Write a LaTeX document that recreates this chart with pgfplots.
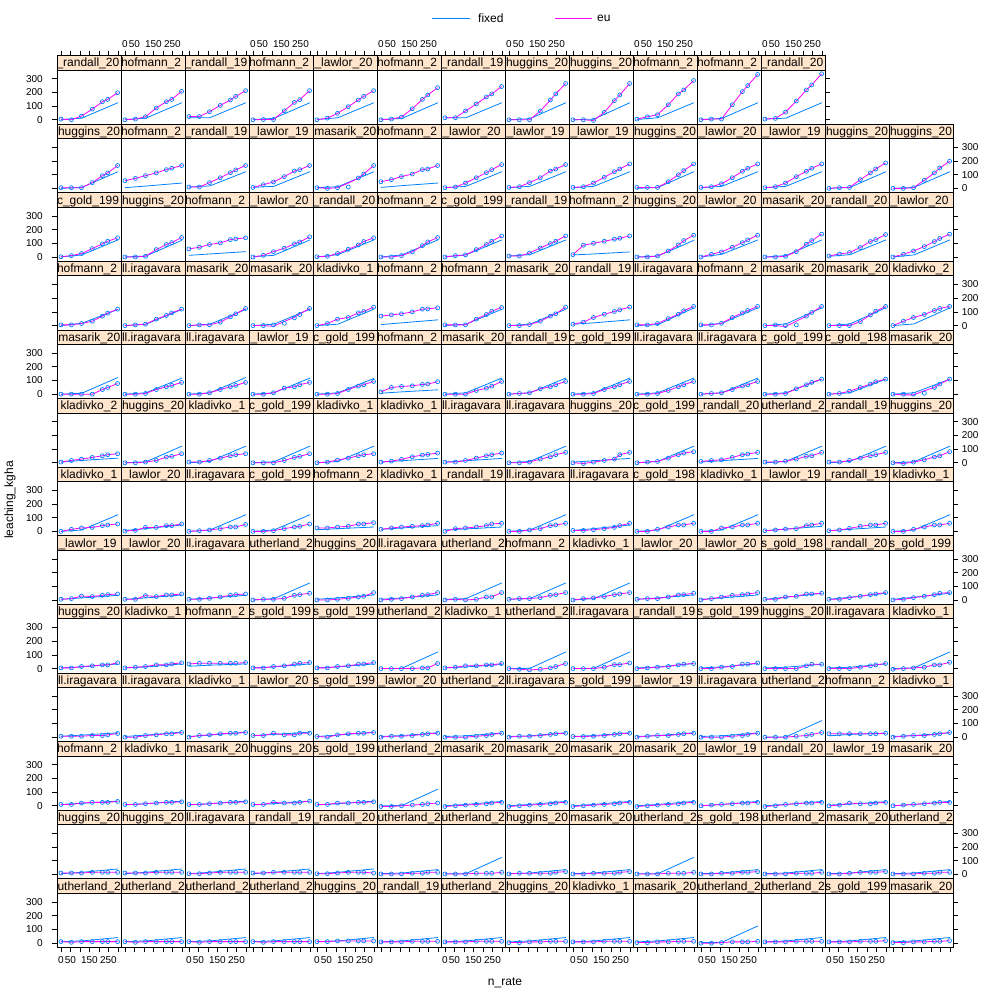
\documentclass[border=0pt]{standalone}
\usepackage{pgfplots}
\pgfplotsset{compat=1.18}
\usepackage{fontspec}
\setmainfont{Liberation Sans}
\definecolor{fixc}{HTML}{0080FF}
\definecolor{euc}{HTML}{FF00FF}
\definecolor{stripc}{HTML}{FFE5CC}
\newcommand\striptext{\fontsize{12}{14}\selectfont}
\pgfplotsset{
  panel/.style={
    scale only axis, width=64pt, height=54.3pt, anchor=south west,
    xmin=-19.2, xmax=317.5, ymin=-33, ymax=364,
    axis line style={line width=0.8pt, black},
    xtick=\empty, ytick=\empty,
    tick align=outside, major tick length=5pt,
    tick style={line width=0.7pt, black},
    tick label style={font=\fontsize{10}{12}\selectfont},
    /pgf/number format/assume math mode=true,
  },
}
% x positions of the observed rates
\def\euline(#1,#2,#3,#4,#5,#6,#7){\addplot[euc, line width=0.8pt] coordinates {(0,#1) (55,#2) (108,#3) (165,#4) (218,#5) (246,#6) (298,#7)};}
\def\ptmarks(#1,#2,#3,#4,#5,#6,#7){\addplot[only marks, mark=o, mark size=2pt, fixc, mark options={line width=0.7pt}] coordinates {(0,#1) (55,#2) (108,#3) (165,#4) (218,#5) (246,#6) (298,#7)};}
\def\fixline(#1,#2,#3){\addplot[fixc, line width=0.8pt] coordinates {(0,#1) (110,#2) (300,#3)};}

\newcommand\RA[1]{\hspace*{-1pt}\_randall\_\trim#1}
\newcommand\LA[1]{\hspace*{1pt}\_lawlor\_\trim#1}
\newcommand\HO[1]{\hspace*{-0.5pt}hofmann\_2}
\newcommand\HU[1]{\hspace*{0.5pt}huggins\_\trim#1}
\newcommand\MA[1]{\hspace*{0.8pt}masarik\_\trim#1}
\newcommand\KL[1]{\hspace*{3pt}kladivko\_\trimone#1}
\newcommand\LL{\hspace*{0.5pt}ll.iragavara}
\newcommand\CG[1]{\hspace*{-0.5pt}c\_gold\_\trimthree#1}
\newcommand\SG[1]{\hspace*{-0.5pt}s\_gold\_\trimthree#1}
\newcommand\SU{\hspace*{-6pt}sutherland\_2}
\def\trim#1#2#3#4{#1#2}
\def\trimone#1#2#3#4{#1}
\def\trimthree#1#2#3#4{#1#2#3}

% #1 column, #2 row (0 = top), #3 strip label, #4 observed, #5 eu, #6 fixed
\newcommand\panelx[6]{%
\begingroup
\pgfmathsetmacro\px{57.3+64*#1}%
\pgfmathsetmacro\py{875.7-68.6*#2}%
\pgfmathsetmacro\sbot{930-68.6*#2}%
\pgfmathsetmacro\stop{944.3-68.6*#2}%
\pgfmathsetmacro\pr{\px+64}%
\ifnum#2=0 \def\lastj{11}\else\def\lastj{13}\fi
\ifnum#1=0
  \ifodd#2\relax \pgfplotsset{panel/.append style={ytick={0,100,200,300},ytick pos=left,yticklabels={,,,}}}%
  \else \pgfplotsset{panel/.append style={ytick={0,100,200,300},ytick pos=left,yticklabel pos=left,yticklabel style={xshift=-6pt}}}\fi
\fi
\ifnum#1=\lastj\relax
  \ifodd#2\relax \pgfplotsset{panel/.append style={ytick={0,100,200,300},ytick pos=right,yticklabel pos=right}}%
  \else \pgfplotsset{panel/.append style={ytick={0,100,200,300},ytick pos=right,yticklabels={,,,}}}\fi
\fi
\ifnum#2=12
  \ifodd#1\relax \pgfplotsset{panel/.append style={xtick={0,50,...,300},xtick pos=left,xticklabels={,,,,,,}}}%
  \else \pgfplotsset{panel/.append style={xtick={0,50,...,300},xtick pos=left,xticklabel pos=left,xticklabels={0,50,,150,,250,}}}\fi
\fi
\begin{axis}[panel,at={(\px pt,\py pt)}]
\fixline(#6)
\euline(#5)
\ptmarks(#4)
\end{axis}
\ifnum#2=0
  \ifodd#1\relax \def\toplab{xticklabel pos=right,xticklabels={0,50,,150,,250,}}\else\def\toplab{xticklabels={,,,,,,}}\fi
  \edef\tmpaxis{\noexpand\begin{axis}[scale only axis, width=64pt, height=1pt, anchor=north west, at={(\px pt,\stop pt)},
    xmin=-19.2,xmax=317.5,ymin=0,ymax=1, axis line style={draw=none}, ytick=\noexpand\empty,
    xtick={0,50,...,300}, xtick pos=right, tick align=outside, major tick length=5pt,
    tick style={line width=0.7pt, black}, tick label style={font=\noexpand\fontsize{10}{12}\noexpand\selectfont},
    \unexpanded\expandafter{\toplab}]}%
  \tmpaxis
  \end{axis}
\fi
\begin{scope}
\clip (\px pt,\sbot pt) rectangle (\pr pt,\stop pt);
\fill[stripc] (\px pt,\sbot pt) rectangle (\pr pt,\stop pt);
\node[anchor=base west, inner sep=0pt, font=\striptext] at (\px pt,\sbot pt+3pt) {#3};
\end{scope}
\draw[line width=0.8pt] (\px pt,\sbot pt) rectangle (\pr pt,\stop pt);
\endgroup}
\newcommand\panel[5]{\panelx{#1}{#2}{#3}{#4}{#4}{#5}}

\begin{document}
\begin{tikzpicture}[x=1pt,y=1pt]
\useasboundingbox (0,0) rectangle (1000,1000);
% ---- row 0 (top)
\panel{0}{0}{\RA{2002}}{5,0,27,78,132,149,198}{2,12,125}
\panel{1}{0}{\HO{2004}}{0,5,22,86,132,149,208}{2,12,125}
\panel{2}{0}{\RA{1999}}{24,24,59,105,145,171,213}{15,15,125}
\panel{3}{0}{\HO{2004}}{0,2,2,66,127,147,213}{2,10,125}
\panel{4}{0}{\LA{2004}}{0,12,47,96,145,171,213}{2,15,125}
\panel{5}{0}{\HO{2004}}{0,5,20,81,149,181,235}{2,10,125}
\panel{6}{0}{\RA{1999}}{15,15,64,115,167,189,243}{15,15,125}
\panel{7}{0}{\HU{2004}}{0,0,0,64,145,189,265}{0,8,125}
\panel{8}{0}{\HU{2004}}{0,0,-5,54,140,181,265}{0,5,125}
\panel{9}{0}{\HO{2004}}{5,22,37,110,189,218,287}{2,15,125}
\panel{10}{0}{\HO{2004}}{0,5,5,110,206,250,331}{2,10,125}
\panel{11}{0}{\RA{2002}}{5,10,56,137,218,255,336}{5,12,125}
% ---- row 1
\panel{0}{1}{\HU{2004}}{5,5,5,42,93,113,167}{0,7,122}
\panel{1}{1}{\HO{2004}}{56,73,93,113,137,147,167}{5,17,39}
\panel{2}{1}{\RA{1999}}{10,10,42,78,115,135,167}{10,18,122}
\panel{3}{1}{\LA{1999}}{7,27,47,86,127,137,167}{7,15,122}
\panelx{4}{1}{\MA{2008}}{5,0,5,10,76,105,167}{5,0,5,39,76,105,167}{5,12,122}
\panel{5}{1}{\HO{2004}}{49,64,86,105,137,142,167}{7,20,39}
\panel{6}{1}{\LA{2004}}{5,10,39,78,115,137,174}{5,15,122}
\panel{7}{1}{\LA{1999}}{7,12,42,78,127,142,174}{5,15,122}
\panel{8}{1}{\LA{1999}}{7,12,39,81,122,142,179}{5,15,122}
\panel{9}{1}{\HU{2004}}{7,7,7,49,100,130,179}{0,7,122}
\panel{10}{1}{\LA{2004}}{7,12,34,78,125,147,179}{5,15,122}
\panel{11}{1}{\LA{1999}}{5,12,39,86,125,147,179}{5,15,122}
\panel{12}{1}{\HU{2004}}{0,5,7,64,113,142,186}{0,7,122}
\panel{13}{1}{\HU{2004}}{0,0,5,59,113,149,198}{0,7,122}
% ---- row 2
\panel{0}{2}{\CG{1996}}{2,10,25,61,96,115,140}{0,15,125}
\panel{1}{2}{\HU{2004}}{0,0,5,54,91,105,142}{0,7,122}
\panel{2}{2}{\HO{2004}}{59,71,91,103,127,132,140}{12,22,39}
\panel{3}{2}{\LA{2004}}{0,12,39,64,96,110,147}{2,12,125}
\panel{4}{2}{\RA{2002}}{2,5,25,56,88,113,140}{0,17,125}
\panel{5}{2}{\HO{2004}}{0,0,10,37,83,110,142}{0,15,125}
\panel{6}{2}{\CG{1996}}{0,10,15,54,91,115,154}{0,15,125}
\panel{7}{2}{\RA{1999}}{7,7,29,66,98,115,154}{7,17,125}
\panel{8}{2}{\HO{2004}}{17,86,100,115,130,137,154}{15,22,37}
\panel{9}{2}{\HU{2004}}{0,0,7,44,88,120,159}{0,7,122}
\panel{10}{2}{\LA{2004}}{0,20,37,71,105,125,159}{0,20,125}
\panel{11}{2}{\MA{2008}}{0,0,5,39,93,120,167}{0,10,125}
\panel{12}{2}{\RA{2002}}{7,22,32,69,113,127,164}{5,17,125}
\panel{13}{2}{\LA{2004}}{0,20,44,76,113,135,167}{0,15,125}
% ---- row 3
\panel{0}{3}{\HO{2004}}{5,5,15,32,69,91,120}{0,17,118}
\panel{1}{3}{\LL}{0,5,10,47,74,93,120}{0,10,118}
\panel{2}{3}{\MA{2008}}{0,5,5,25,64,86,125}{0,10,118}
\panelx{3}{3}{\MA{2008}}{0,0,5,17,56,81,125}{0,0,-5,30,60,85,125}{0,10,120}
\panel{4}{3}{\KL{1998}}{0,15,47,59,93,103,135}{0,10,120}
\panel{5}{3}{\HO{2004}}{69,78,86,100,120,122,130}{7,20,42}
\panel{6}{3}{\HO{2004}}{5,5,5,47,81,105,132}{0,10,120}
\panel{7}{3}{\MA{2008}}{0,0,7,32,69,86,135}{0,10,120}
\panel{8}{3}{\RA{1999}}{10,25,59,83,103,115,135}{10,20,42}
\panel{9}{3}{\LL}{5,5,15,51,83,108,140}{0,7,130}
\panel{10}{3}{\HO{2004}}{5,5,17,59,93,110,140}{0,17,130}
\panelx{11}{3}{\MA{2008}}{0,5,0,5,69,96,140}{0,0,-7,32,69,96,140}{0,12,130}
\panel{12}{3}{\MA{2008}}{0,0,0,29,78,105,140}{0,12,130}
\panel{13}{3}{\KL{2008}}{0,32,59,81,110,125,140}{0,12,130}
% ---- row 4
\panel{0}{4}{\MA{2008}}{0,0,0,0,34,49,78}{0,7,122}
\panel{1}{4}{\LL}{0,0,5,34,54,64,86}{0,10,118}
\panel{2}{4}{\LL}{0,0,10,34,54,64,86}{0,10,122}
\panel{3}{4}{\LA{1999}}{0,0,10,44,54,69,86}{0,10,118}
\panel{4}{4}{\CG{1996}}{0,0,5,34,59,69,93}{0,10,115}
\panel{5}{4}{\HO{2004}}{17,49,56,61,71,74,91}{7,17,32}
\panel{6}{4}{\MA{2008}}{0,0,0,27,44,59,93}{0,10,118}
\panel{7}{4}{\RA{1999}}{0,5,10,39,54,69,93}{0,10,118}
\panel{8}{4}{\CG{1996}}{0,0,5,34,54,69,93}{0,10,118}
\panel{9}{4}{\LL}{0,0,5,27,54,69,93}{0,10,118}
\panel{10}{4}{\LL}{0,5,10,34,59,69,93}{0,10,118}
\panel{11}{4}{\CG{1996}}{0,0,5,39,69,86,110}{0,10,110}
\panel{12}{4}{\CG{1988}}{0,5,22,49,74,91,110}{0,10,110}
\panelx{13}{4}{\MA{2008}}{0,0,0,7,49,74,110}{0,-5,-5,25,49,74,110}{0,10,110}
% ---- row 5
\panel{0}{5}{\KL{2008}}{5,17,27,39,51,59,66}{5,17,34}
\panel{1}{5}{\HU{2004}}{0,0,5,17,42,47,66}{0,7,122}
\panel{2}{5}{\KL{1998}}{5,5,17,34,51,59,66}{0,10,122}
\panel{3}{5}{\CG{1996}}{0,0,0,17,39,47,66}{0,7,122}
\panel{4}{5}{\KL{1998}}{0,5,20,34,51,59,66}{0,10,122}
\panel{5}{5}{\KL{1998}}{5,12,25,44,56,61,71}{5,15,32}
\panel{6}{5}{\LL}{5,5,17,34,51,59,71}{5,15,32}
\panel{7}{5}{\LL}{0,0,5,27,44,59,76}{0,10,122}
\panel{8}{5}{\HU{2004}}{0,-5,5,17,27,59,76}{5,15,32}
\panel{9}{5}{\CG{1996}}{0,5,10,34,59,71,81}{0,10,122}
\panel{10}{5}{\RA{2002}}{10,17,22,39,59,64,76}{5,15,32}
\panel{11}{5}{\SU}{5,5,12,27,47,51,76}{0,10,122}
\panel{12}{5}{\RA{1999}}{5,5,17,34,51,59,76}{0,10,122}
\panel{13}{5}{\HU{2004}}{0,-5,5,22,42,51,81}{0,7,122}
% ---- row 6
\panel{0}{6}{\KL{1998}}{0,15,25,29,42,47,54}{0,10,122}
\panel{1}{6}{\LA{2004}}{2,7,29,29,42,42,54}{7,20,47}
\panel{2}{6}{\LL}{0,5,10,20,32,32,51}{0,10,122}
\panel{3}{6}{\CG{1996}}{0,0,5,20,32,37,54}{0,10,122}
\panel{4}{6}{\HO{2004}}{25,25,32,37,54,54,64}{12,20,32}
\panel{5}{6}{\KL{1998}}{15,25,32,37,42,47,59}{15,25,42}
\panel{6}{6}{\RA{1999}}{0,20,25,32,42,54,59}{10,18,32}
\panel{7}{6}{\LL}{0,0,10,20,42,47,59}{0,10,122}
\panel{8}{6}{\LL}{7,7,12,20,29,42,59}{7,20,47}
\panel{9}{6}{\CG{1988}}{0,0,15,32,47,47,59}{0,10,122}
\panel{10}{6}{\KL{1998}}{0,0,25,32,47,47,59}{0,10,122}
\panel{11}{6}{\LA{1999}}{5,10,17,20,42,47,59}{5,17,37}
\panel{12}{6}{\RA{1999}}{5,10,22,37,47,47,59}{5,15,32}
\panel{13}{6}{\KL{1998}}{0,0,15,32,47,47,59}{0,10,122}
% ---- row 7
\panel{0}{7}{\LA{1999}}{5,10,29,25,34,39,44}{5,15,34}
\panel{1}{7}{\LA{2004}}{5,5,32,25,37,37,44}{5,15,37}
\panel{2}{7}{\LL}{5,5,12,22,34,39,44}{5,15,34}
\panel{3}{7}{\SU}{0,5,5,12,34,39,49}{0,10,125}
\panel{4}{7}{\HU{2004}}{0,0,5,12,22,27,54}{5,15,37}
\panel{5}{7}{\LL}{0,5,10,22,34,39,54}{5,15,37}
\panel{6}{7}{\SU}{0,5,0,5,22,22,54}{5,10,125}
\panel{7}{7}{\HO{2004}}{5,10,10,17,34,39,54}{5,10,125}
\panel{8}{7}{\KL{1998}}{0,10,15,25,39,44,54}{0,10,125}
\panel{9}{7}{\LA{2004}}{5,10,10,22,37,39,49}{5,15,37}
\panel{10}{7}{\LA{2004}}{0,10,22,34,39,44,54}{5,15,37}
\panel{11}{7}{\SG{1988}}{5,5,22,27,44,44,49}{5,20,49}
\panel{12}{7}{\RA{2002}}{5,5,17,27,39,44,54}{5,20,49}
\panel{13}{7}{\SG{1996}}{0,5,17,27,39,49,54}{5,20,49}
% ---- row 8
\panel{0}{8}{\HU{2004}}{5,5,15,20,27,27,42}{5,12,34}
\panel{1}{8}{\KL{1998}}{5,10,15,27,27,34,42}{5,12,34}
\panel{2}{8}{\HO{2004}}{34,39,39,39,39,39,44}{17,25,34}
\panel{3}{8}{\SG{1996}}{5,5,15,20,32,39,44}{5,12,34}
\panel{4}{8}{\SG{1996}}{5,5,15,20,32,34,44}{5,12,34}
\panel{5}{8}{\SU}{0,0,0,0,5,5,37}{0,2,122}
\panel{6}{8}{\KL{1998}}{5,10,20,20,27,27,37}{5,12,30}
\panel{7}{8}{\SU}{0,-5,-10,-5,5,15,37}{0,2,122}
\panel{8}{8}{\LL}{0,0,0,10,29,29,41}{0,2,122}
\panel{9}{8}{\RA{1998}}{0,5,10,15,27,32,37}{5,12,37}
\panel{10}{8}{\SG{1996}}{0,0,10,15,32,32,41}{5,12,37}
\panel{11}{8}{\HU{2004}}{0,0,0,0,20,32,32}{5,10,32}
\panel{12}{8}{\LL}{0,0,0,10,20,27,37}{5,10,34}
\panel{13}{8}{\KL{1998}}{-5,0,5,10,27,27,46}{0,5,122}
% ---- row 9
\panel{0}{9}{\LL}{7,7,7,12,12,17,27}{7,15,32}
\panel{1}{9}{\LL}{0,0,12,17,25,25,34}{5,15,37}
\panel{2}{9}{\KL{1998}}{0,12,17,25,29,29,34}{5,15,37}
\panel{3}{9}{\LA{2004}}{12,12,29,17,17,29,29}{12,20,37}
\panel{4}{9}{\SG{1996}}{5,0,17,25,29,29,34}{5,15,37}
\panel{5}{9}{\LA{2004}}{0,7,7,12,20,25,29}{5,12,32}
\panel{6}{9}{\SU}{0,0,0,7,12,20,29}{5,10,30}
\panel{7}{9}{\LL}{0,7,7,12,20,25,29}{5,10,32}
\panel{8}{9}{\SG{1996}}{5,5,7,12,20,25,29}{5,12,32}
\panel{9}{9}{\LA{1999}}{0,7,12,12,20,25,29}{5,12,32}
\panel{10}{9}{\LL}{0,0,0,7,12,20,29}{5,10,30}
\panel{11}{9}{\SU}{0,0,0,7,12,20,34}{0,2,122}
\panel{12}{9}{\HO{2004}}{25,25,25,25,25,25,29}{10,20,29}
\panel{13}{9}{\KL{1998}}{0,7,12,12,20,25,34}{5,12,32}
% ---- row 10
\panel{0}{10}{\HO{2004}}{10,10,20,25,25,25,32}{10,18,34}
\panel{1}{10}{\KL{1998}}{10,10,15,20,25,25,29}{7,15,34}
\panel{2}{10}{\MA{2008}}{10,10,15,20,25,25,29}{7,15,34}
\panel{3}{10}{\HU{2004}}{10,10,25,20,20,25,34}{7,15,34}
\panel{4}{10}{\SG{1996}}{10,10,20,20,25,25,29}{7,15,34}
\panel{5}{10}{\SU}{-5,-5,0,5,10,15,20}{0,2,122}
\panel{6}{10}{\MA{2008}}{-5,0,5,10,15,20,25}{0,10,32}
\panel{7}{10}{\MA{2008}}{-5,0,5,10,15,20,25}{0,10,32}
\panel{8}{10}{\MA{2008}}{-5,0,5,10,15,20,25}{0,10,32}
\panel{9}{10}{\MA{2008}}{-5,0,5,10,15,20,25}{0,10,32}
\panel{10}{10}{\LA{1999}}{0,5,10,15,20,20,25}{0,10,32}
\panel{11}{10}{\RA{2002}}{-5,0,10,15,20,20,25}{0,10,32}
\panel{12}{10}{\LA{1999}}{0,5,20,15,15,20,25}{5,12,30}
\panel{13}{10}{\MA{2008}}{0,5,10,15,20,25,25}{0,10,32}
% ---- row 11
\panel{0}{11}{\HU{2004}}{10,10,10,15,15,15,15}{5,15,40}
\panel{1}{11}{\HU{2004}}{10,10,10,15,15,15,15}{5,15,40}
\panel{2}{11}{\LL}{5,5,10,15,15,15,15}{5,15,40}
\panel{3}{11}{\RA{1999}}{10,10,15,15,15,15,15}{5,15,40}
\panel{4}{11}{\RA{2002}}{5,5,10,15,15,15,10}{5,15,40}
\panel{5}{11}{\SU}{3,3,3,8,8,15,15}{5,10,35}
\panel{6}{11}{\SU}{3,3,3,8,8,8,15}{5,5,125}
\panel{7}{11}{\HU{2004}}{3,8,8,8,8,15,20}{5,10,35}
\panel{8}{11}{\MA{2008}}{3,3,8,8,8,15,20}{5,10,35}
\panel{9}{11}{\SU}{3,3,3,8,8,8,15}{5,5,125}
\panel{10}{11}{\SG{1988}}{3,3,8,8,15,15,20}{5,10,35}
\panel{11}{11}{\SU}{3,3,3,8,8,8,15}{5,10,35}
\panel{12}{11}{\MA{2008}}{3,3,8,15,15,15,20}{5,10,35}
\panel{13}{11}{\SU}{3,3,3,8,8,15,15}{5,10,35}
% ---- row 12 (bottom)
\panel{0}{12}{\SU}{10,5,10,10,10,10,10}{10,15,40}
\panel{1}{12}{\SU}{10,5,10,10,10,10,10}{10,15,40}
\panel{2}{12}{\SU}{10,5,10,10,10,10,10}{10,15,40}
\panel{3}{12}{\SU}{10,5,10,10,10,10,10}{10,15,40}
\panel{4}{12}{\HU{2004}}{10,10,15,15,15,15,15}{10,15,40}
\panel{5}{12}{\RA{1999}}{8,8,8,12,12,12,12}{8,15,40}
\panel{6}{12}{\SU}{8,8,8,12,12,12,12}{8,15,40}
\panel{7}{12}{\HU{2004}}{3,3,8,8,12,12,12}{8,15,40}
\panel{8}{12}{\KL{1998}}{8,8,8,12,12,12,12}{8,15,40}
\panel{9}{12}{\MA{2008}}{3,3,8,8,12,12,12}{8,15,40}
\panel{10}{12}{\SU}{-2,-2,3,8,8,8,12}{3,5,125}
\panel{11}{12}{\SU}{8,8,8,12,12,12,12}{8,15,40}
\panel{12}{12}{\SG{1996}}{8,8,8,12,12,12,17}{8,15,40}
\panel{13}{12}{\MA{2008}}{3,3,8,8,12,12,17}{8,15,40}
% ---- legend and titles
\draw[fixc, line width=0.8pt] (432,982) -- (470,982);
\node[anchor=west, inner sep=0pt, font=\striptext] at (478,982) {fixed};
\draw[euc, line width=0.8pt] (555,982) -- (592,982);
\node[anchor=west, inner sep=0pt, font=\striptext] at (597,982) {eu};
\node[rotate=90, font=\striptext] at (10,500) {leaching\_kgha};
\node[font=\striptext] at (505,17) {n\_rate};
\end{tikzpicture}
\end{document}
